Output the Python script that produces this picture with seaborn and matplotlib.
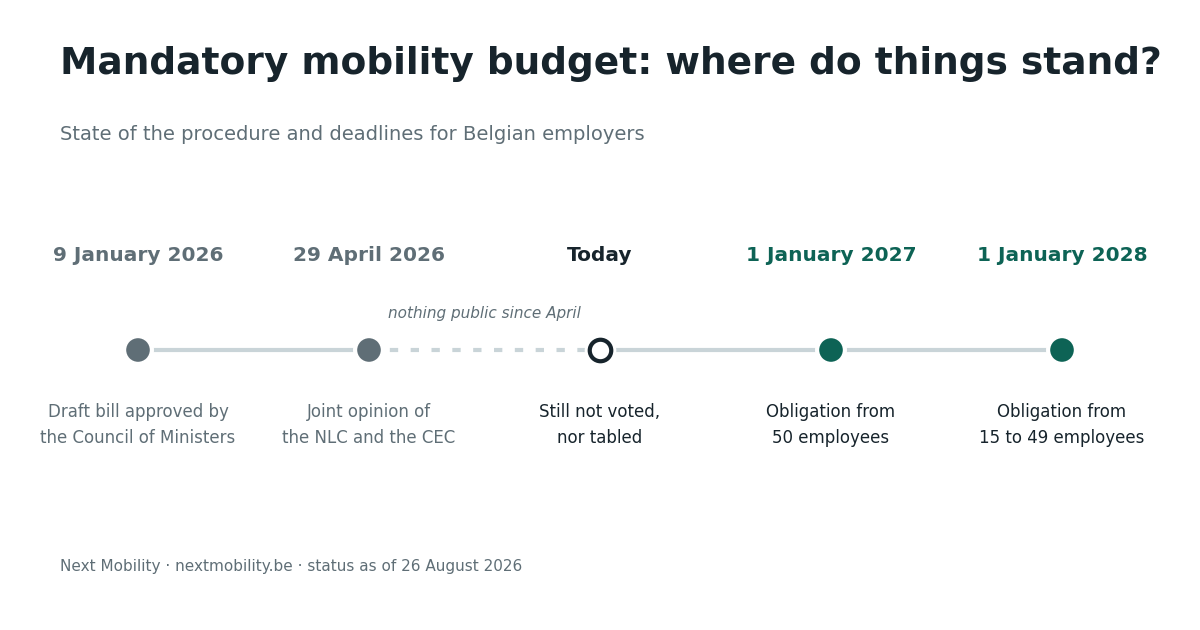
import seaborn as sns
import matplotlib.pyplot as plt
import pandas as pd

# timeline data
dates = ['9 January 2026', '29 April 2026', 'Today', '1 January 2027', '1 January 2028']
descriptions = ['Draft bill approved by\nthe Council of Ministers',
                'Joint opinion of\nthe NLC and the CEC',
                'Still not voted,\nnor tabled',
                'Obligation from\n50 employees',
                'Obligation from\n15 to 49 employees']
status = ['past', 'past', 'today', 'future', 'future']
# segment styles between consecutive steps
segments = ['solid', 'dashed', 'solid', 'solid']
gap_note = 'nothing public since April'

GREY = '#5f6e76'
DARK = '#17242c'
GREEN = '#0d6355'
LINE = '#c9d4d8'
colors = {'past': GREY, 'today': DARK, 'future': GREEN}

df = pd.DataFrame({'step': range(len(dates)), 'date': dates,
                   'desc': descriptions, 'status': status, 'y': 0.0})

sns.set_style('white')
plt.rcParams['font.family'] = ['DejaVu Sans']

fig = plt.figure(figsize=(12, 6.3), dpi=100)
ax = fig.add_axes([0, 0, 1, 1])
# 231 px per step, first step at x=138, line at y=350
ax.set_xlim(-138 / 231, (1200 - 138) / 231)
ax.set_ylim(-(630 - 350) / 100, 350 / 100)
ax.axis('off')

for i, style in enumerate(segments):
    ax.plot([df.step[i], df.step[i + 1]], [0, 0], color=LINE, lw=3,
            ls=(0, (2, 3)) if style == 'dashed' else '-', zorder=1,
            solid_capstyle='butt', dash_capstyle='butt')

filled = df[df.status != 'today']
sns.scatterplot(data=filled, x='step', y='y', hue='status', palette=colors,
                s=400, edgecolor='white', linewidth=3, legend=False, ax=ax, zorder=3)
today = df[df.status == 'today']
ax.scatter(today.step, today.y, s=520, color='white', zorder=3, linewidths=0)
ax.scatter(today.step, today.y, s=240, facecolor='white', edgecolor=DARK,
           linewidths=3, zorder=4)

for _, r in df.iterrows():
    c = colors[r.status]
    ax.text(r.step, 0.95, r.date, ha='center', va='center', fontsize=14.5,
            fontweight='bold', color=c)
    ax.text(r.step, -0.75, r.desc, ha='center', va='center', fontsize=12,
            color=GREY if r.status == 'past' else DARK, linespacing=1.55)

ax.text((df.step[1] + df.step[2]) / 2, 0.37, gap_note, ha='center', va='center',
        fontsize=11, style='italic', color=GREY)

fig.text(60 / 1200, 1 - 64 / 630, 'Mandatory mobility budget: where do things stand?',
         fontsize=27, fontweight='bold', color=DARK, va='center', ha='left')
fig.text(60 / 1200, 1 - 135 / 630, 'State of the procedure and deadlines for Belgian employers',
         fontsize=14, color=GREY, va='center', ha='left')
fig.text(60 / 1200, 1 - 566 / 630, 'Next Mobility · nextmobility.be · status as of 26 August 2026',
         fontsize=11, color=GREY, va='center', ha='left')

fig.savefig('out.png', dpi=100, facecolor='white')
